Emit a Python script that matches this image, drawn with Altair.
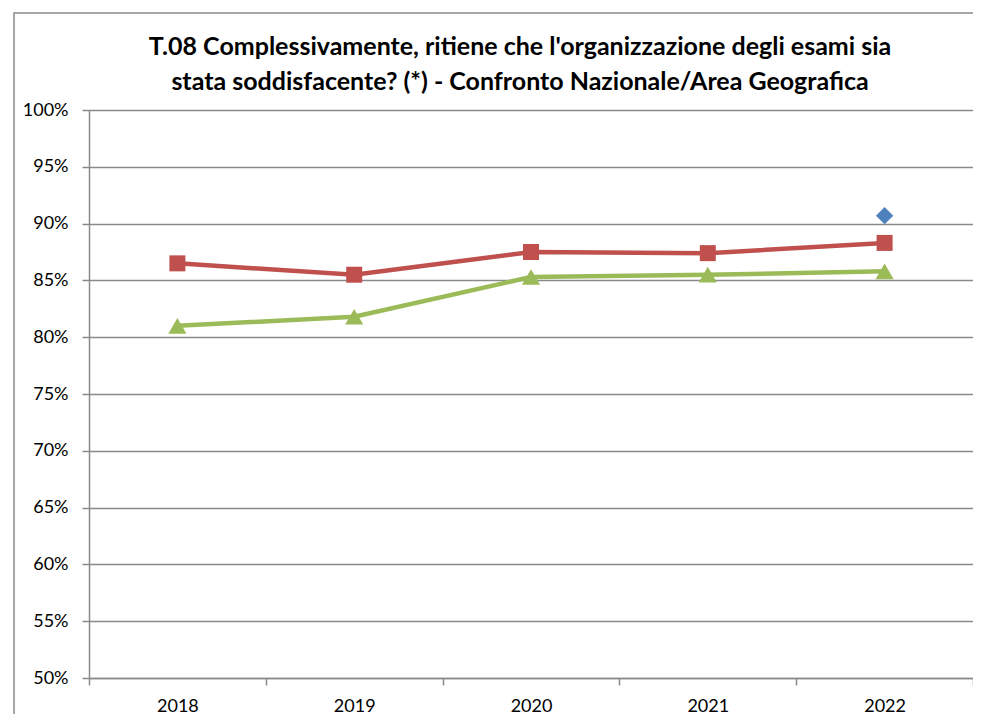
import altair as alt
import pandas as pd

years = ["2018", "2019", "2020", "2021", "2022"]
area_vals = [86.5, 85.5, 87.5, 87.4, 88.3]
naz_vals = [81.0, 81.8, 85.3, 85.5, 85.8]
corso_years = ["2022"]
corso_vals = [90.7]

y_ticks = [50, 55, 60, 65, 70, 75, 80, 85, 90, 95, 100]
title_lines = ["T.08 Complessivamente, ritiene che l'organizzazione degli esami sia",
               "stata soddisfacente? (*) - Confronto Nazionale/Area Geografica"]

rows = []
for yr, v in zip(years, area_vals):
    rows.append({"anno": yr, "valore": v / 100, "serie": "Area Geografica"})
for yr, v in zip(years, naz_vals):
    rows.append({"anno": yr, "valore": v / 100, "serie": "Nazionale"})
df = pd.DataFrame(rows)
df_corso = pd.DataFrame({"anno": corso_years, "valore": [v / 100 for v in corso_vals]})

FONT = "Lato"
GRAY = "#8a8a8a"

x_enc = alt.X("anno:N", sort=years, title=None,
              scale=alt.Scale(paddingInner=0, paddingOuter=0),
              axis=alt.Axis(labelAngle=0, tickBand="extent", grid=False,
                            domainColor=GRAY, domainWidth=1.5, tickColor=GRAY,
                            tickWidth=1.5, tickSize=7, labelPadding=12,
                            labelFontSize=18, labelColor="#000000", labelFont=FONT))
y_enc = alt.Y("valore:Q", title=None,
              scale=alt.Scale(domain=[0.5, 1.0], nice=False, zero=False),
              axis=alt.Axis(values=[t / 100 for t in y_ticks], format=".0%",
                            grid=True, gridColor=GRAY, gridWidth=1.5,
                            domainColor=GRAY, domainWidth=1.5, tickColor=GRAY,
                            tickWidth=1.5, tickSize=7, labelPadding=14,
                            labelFontSize=18, labelColor="#000000", labelFont=FONT))

color_scale = alt.Scale(domain=["Area Geografica", "Nazionale"],
                        range=["#C0504D", "#9BBB59"])

base = alt.Chart(df)
lines = base.mark_line(strokeWidth=4.5).encode(
    x=x_enc, y=y_enc,
    color=alt.Color("serie:N", scale=color_scale, legend=None))
pts_red = alt.Chart(df[df.serie == "Area Geografica"]).mark_point(
    shape="square", size=256, filled=True, opacity=1, color="#C0504D").encode(
    x=alt.X("anno:N", sort=years), y="valore:Q")
pts_green = alt.Chart(df[df.serie == "Nazionale"]).mark_point(
    shape="triangle-up", size=330, filled=True, opacity=1, color="#9BBB59").encode(
    x=alt.X("anno:N", sort=years), y="valore:Q")
pts_blue = alt.Chart(df_corso).mark_point(
    shape="diamond", size=300, filled=True, opacity=1, color="#4F81BD").encode(
    x=alt.X("anno:N", sort=years), y="valore:Q")

one = pd.DataFrame({"k": [0]})
frame = alt.Chart(one).mark_rect(
    fillOpacity=0, stroke=GRAY, strokeWidth=1.5).encode(
    x=alt.value(-75), x2=alt.value(1000), y=alt.value(-97), y2=alt.value(700))

title1 = alt.Chart(one).mark_text(
    font=FONT, fontSize=25, fontWeight="bold", color="#000000",
    align="center", baseline="middle").encode(
    x=alt.value(431), y=alt.value(-63), text=alt.value(title_lines[0]))
title2 = alt.Chart(one).mark_text(
    font=FONT, fontSize=25, fontWeight="bold", color="#000000",
    align="center", baseline="middle").encode(
    x=alt.value(431), y=alt.value(-28), text=alt.value(title_lines[1]))

chart = alt.layer(frame, title1, title2,
                  lines, pts_red, pts_green, pts_blue).properties(
    width=884, height=568,
    autosize=alt.AutoSizeParams(type="none"),
    padding={"left": 81, "top": 102, "right": 0, "bottom": 36},
).configure_view(stroke=None)

chart.save("out.html", embed_options={"renderer": "svg", "actions": False})
